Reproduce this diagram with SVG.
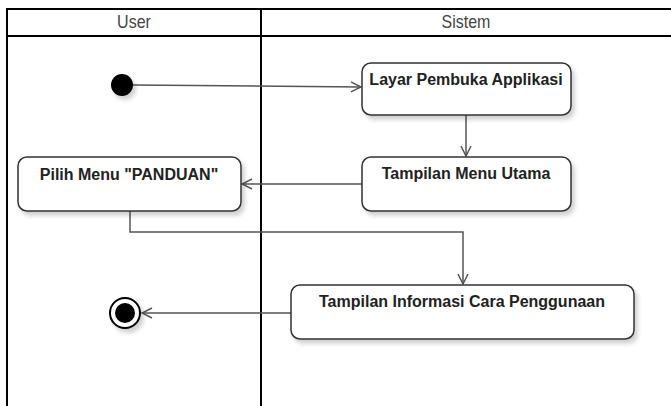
<svg xmlns="http://www.w3.org/2000/svg" width="671" height="406" viewBox="0 0 671 406">
  <style>
    .lane { fill: none; stroke: #000; stroke-width: 2; }
    .head { font-family: "Liberation Sans", Arial, sans-serif; font-size: 16px; fill: #444; text-anchor: middle; }
    .box { fill: #fff; stroke: #333; stroke-width: 1.5; filter: url(#shadow); }
    .label { font-family: "Liberation Sans", Arial, sans-serif; font-size: 16px; font-weight: bold; fill: #222; text-anchor: middle; }
    .edge { fill: none; stroke: #555; stroke-width: 1.5; marker-end: url(#open); }
  </style>
  <defs>
    <filter id="shadow" x="-10%" y="-20%" width="130%" height="160%">
      <feDropShadow dx="3" dy="4" stdDeviation="2" flood-color="#000" flood-opacity="0.18"/>
    </filter>
    <marker id="open" viewBox="0 0 12 12" refX="11" refY="6" markerWidth="12" markerHeight="12" markerUnits="userSpaceOnUse" orient="auto">
      <path d="M1,1 L11,6 L1,11" fill="none" stroke="#555" stroke-width="1.5"/>
    </marker>
  </defs>

  <rect width="671" height="406" fill="#fff"/>

  <!-- swimlanes -->
  <g id="lanes">
    <line class="lane" x1="7" y1="9" x2="671" y2="9"/>
    <line class="lane" x1="7" y1="36" x2="671" y2="36"/>
    <line class="lane" x1="7" y1="8" x2="7" y2="406"/>
    <line class="lane" x1="261" y1="8" x2="261" y2="406"/>
    <text class="head" transform="translate(134,28) scale(1,1.2)">User</text>
    <text class="head" transform="translate(466,28) scale(1,1.2)">Sistem</text>
  </g>

  <!-- connectors -->
  <g id="connectors">
    <path class="edge" d="M133,85 L361,87"/>
    <path class="edge" d="M466,115 L466,156"/>
    <path class="edge" d="M362,184 L242,184"/>
    <path class="edge" d="M130,211 L130,232 L463,232 L463,284"/>
    <path class="edge" d="M291,313 L142,313"/>
  </g>

  <g id="start">
    <circle cx="122" cy="85" r="11" fill="#000" filter="url(#shadow)"/>
  </g>

  <g id="layar">
    <rect class="box" x="362" y="63" width="209" height="52" rx="9"/>
    <text class="label" x="466" y="85">Layar Pembuka Applikasi</text>
  </g>

  <g id="menu-utama">
    <rect class="box" x="362" y="157" width="209" height="54" rx="9"/>
    <text class="label" x="466" y="179">Tampilan Menu Utama</text>
  </g>

  <g id="pilih-panduan">
    <rect class="box" x="18" y="157" width="223" height="54" rx="9"/>
    <text class="label" x="129" y="180">Pilih Menu "PANDUAN"</text>
  </g>

  <g id="informasi">
    <rect class="box" x="291" y="285" width="343" height="54" rx="9"/>
    <text class="label" x="462" y="307">Tampilan Informasi Cara Penggunaan</text>
  </g>

  <g id="end">
    <circle cx="125" cy="313" r="15" fill="#fff" stroke="#000" stroke-width="2" filter="url(#shadow)"/>
    <circle cx="125" cy="313" r="10" fill="#000"/>
  </g>
</svg>
